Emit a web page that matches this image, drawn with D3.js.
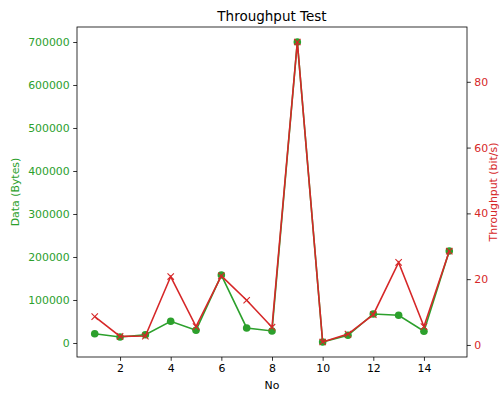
<!DOCTYPE html>
<html>
<head>
<meta charset="utf-8">
<script src="https://cdn.jsdelivr.net/npm/d3@7"></script>
<style>
  body { margin: 0; background: #fff; }
  svg text { font-family: "DejaVu Sans", sans-serif; }
</style>
</head>
<body>
<div id="chart"></div>
<script>
// data
var runNo = [1, 2, 3, 4, 5, 6, 7, 8, 9, 10, 11, 12, 13, 14, 15];
var dataBytes = [21600, 14000, 19300, 50500, 29500, 158000, 35000, 28000, 700000, 2300, 17900, 67400, 64400, 27200, 214000];
var throughput = [8.6, 2.6, 2.7, 20.8, 5.6, 21.0, 13.6, 5.4, 92.1, 0.9, 3.3, 9.2, 25.1, 5.6, 28.5];
var xTicks = [2, 4, 6, 8, 10, 12, 14];
var leftTicks = [0, 100000, 200000, 300000, 400000, 500000, 600000, 700000];
var rightTicks = [0, 20, 40, 60, 80];

var width = 502, height = 394;
var margin = {top: 27, right: 35, bottom: 37, left: 77};
var green = "#2ca02c", red = "#d62728";

var svg = d3.select("#chart").append("svg")
  .attr("width", width)
  .attr("height", height);

var plotW = width - margin.left - margin.right,
    plotH = height - margin.top - margin.bottom;

// matplotlib style 5% padding
function padded(ext) {
  var m = (ext[1] - ext[0]) * 0.05;
  return [ext[0] - m, ext[1] + m];
}

var x = d3.scaleLinear().domain(padded(d3.extent(runNo))).range([0, plotW]);
var yL = d3.scaleLinear().domain(padded(d3.extent(dataBytes))).range([plotH, 0]);
var yR = d3.scaleLinear().domain(padded(d3.extent(throughput))).range([plotH, 0]);

var g = svg.append("g").attr("transform", "translate(" + margin.left + "," + margin.top + ")");

function styleAxis(sel, col) {
  sel.select(".domain").remove();
  sel.selectAll(".tick line").attr("stroke", "#000").attr("stroke-width", 0.8);
  sel.selectAll(".tick text").attr("fill", col).style("font-size", "10.9px");
}

g.append("g")
  .attr("transform", "translate(0," + plotH + ")")
  .call(d3.axisBottom(x).tickValues(xTicks).tickSize(3.8).tickPadding(3.5).tickFormat(d3.format("d")))
  .call(styleAxis, "#000");

g.append("g")
  .call(d3.axisLeft(yL).tickValues(leftTicks).tickSize(3.8).tickPadding(3.5).tickFormat(d3.format("d")))
  .call(styleAxis, green);

g.append("g")
  .attr("transform", "translate(" + plotW + ",0)")
  .call(d3.axisRight(yR).tickValues(rightTicks).tickSize(3.8).tickPadding(3.5).tickFormat(d3.format("d")))
  .call(styleAxis, red);

// green series: data
var lineL = d3.line().x(function(d, i) { return x(runNo[i]); }).y(function(d) { return yL(d); });
g.append("path")
  .datum(dataBytes)
  .attr("fill", "none")
  .attr("stroke", green)
  .attr("stroke-width", 1.6)
  .attr("d", lineL);

g.selectAll(".dot")
  .data(dataBytes)
  .enter().append("circle")
  .attr("class", "dot")
  .attr("cx", function(d, i) { return x(runNo[i]); })
  .attr("cy", function(d) { return yL(d); })
  .attr("r", 3.8)
  .attr("fill", green);

// red series: throughput
var lineR = d3.line().x(function(d, i) { return x(runNo[i]); }).y(function(d) { return yR(d); });
g.append("path")
  .datum(throughput)
  .attr("fill", "none")
  .attr("stroke", red)
  .attr("stroke-width", 1.6)
  .attr("d", lineR);

var s = 3.2;
g.selectAll(".cross")
  .data(throughput)
  .enter().append("path")
  .attr("class", "cross")
  .attr("d", function(d, i) {
    var cx = x(runNo[i]), cy = yR(d);
    return "M" + (cx - s) + "," + (cy - s) + "L" + (cx + s) + "," + (cy + s) +
      "M" + (cx - s) + "," + (cy + s) + "L" + (cx + s) + "," + (cy - s);
  })
  .attr("stroke", red)
  .attr("stroke-width", 1.1);

// frame
g.append("rect")
  .attr("width", plotW)
  .attr("height", plotH)
  .attr("fill", "none")
  .attr("stroke", "#000")
  .attr("stroke-width", 0.8);

// labels
svg.append("text")
  .attr("x", margin.left + plotW / 2)
  .attr("y", 21)
  .attr("text-anchor", "middle")
  .style("font-size", "13.5px")
  .text("Throughput Test");

svg.append("text")
  .attr("x", margin.left + plotW / 2)
  .attr("y", 389)
  .attr("text-anchor", "middle")
  .style("font-size", "10.9px")
  .text("No");

svg.append("text")
  .attr("transform", "translate(19," + (margin.top + plotH / 2) + ") rotate(-90)")
  .attr("text-anchor", "middle")
  .attr("fill", green)
  .style("font-size", "10.9px")
  .text("Data (Bytes)");

svg.append("text")
  .attr("transform", "translate(497," + (margin.top + plotH / 2) + ") rotate(-90)")
  .attr("text-anchor", "middle")
  .attr("fill", red)
  .style("font-size", "10.9px")
  .text("Throughput (bit/s)");
</script>
</body>
</html>
